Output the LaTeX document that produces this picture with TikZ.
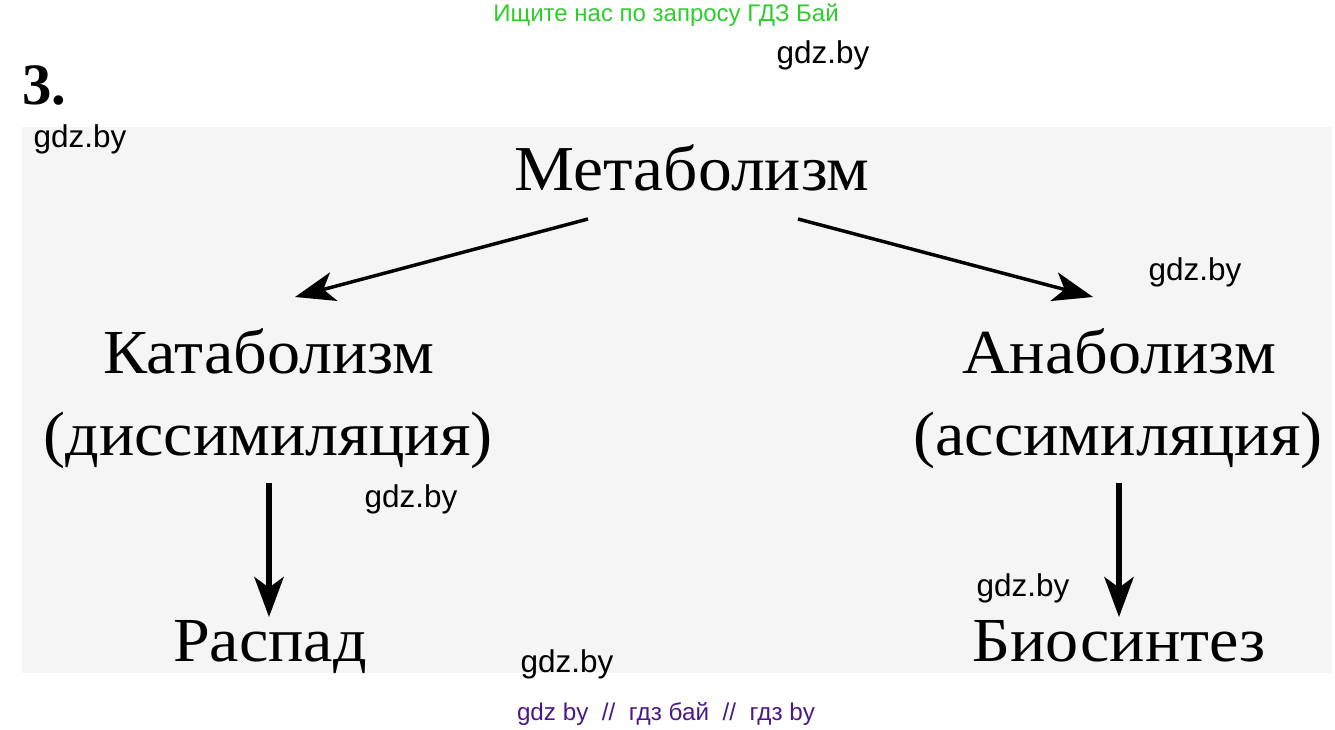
\documentclass[tikz,border=0pt]{standalone}
\usepackage{fontspec}
\setmainfont{Liberation Serif}
\newfontfamily\termfont[FakeStretch=1.055]{Liberation Serif}
\newfontfamily\wmfont{Liberation Sans}
\usetikzlibrary{arrows.meta}

\definecolor{boxgray}{RGB}{245,245,245}
\definecolor{wmgreen}{RGB}{45,205,45}
\definecolor{wmpurple}{RGB}{75,25,135}

\tikzset{
  term/.style={anchor=base, inner sep=0pt, font=\termfont\fontsize{47}{54}\selectfont},
  wm/.style={anchor=base, inner sep=0pt, font=\wmfont\fontsize{23.6}{27}\selectfont},
  arr/.style={line width=2.6pt, -{Stealth[length=30pt, width=22pt, inset=8pt]}},
  darr/.style={line width=3.8pt, -{Stealth[length=30pt, width=22pt, inset=8pt]}}
}

\begin{document}
\begin{tikzpicture}[x=0.75pt, y=-0.75pt]
  \useasboundingbox (0,0) rectangle (1335,729);
  \fill[boxgray] (22,127) rectangle (1332,673);

  % heading and number
  \node[wm, text=wmgreen, font=\wmfont\fontsize{18}{21}\selectfont] (head) at (666,21) {Ищите нас по запросу ГДЗ Бай};
  \node[anchor=base, inner sep=0pt, font=\bfseries\fontsize{44}{50}\selectfont] (num) at (44,104) {3.};

  % terms
  \node[term, font=\termfont\fontsize{48}{55}\selectfont] (metab) at (692,190) {Метаболизм};
  \node[term] (katab) at (269,373) {Катаболизм};
  \node[term] (dissim) at (268,455) {(диссимиляция)};
  \node[term] (anab) at (1119,373) {Анаболизм};
  \node[term] (assim) at (1118,455) {(ассимиляция)};
  \node[term] (raspad) at (270,661) {Распад};
  \node[term] (biosint) at (1119,661) {Биосинтез};

  % arrow ends
  \coordinate (mL) at (588,219); \coordinate (kT) at (295,297);
  \coordinate (mR) at (798,219); \coordinate (aT) at (1093,297);
  \coordinate (dB) at (269,483); \coordinate (rT) at (269,617);
  \coordinate (sB) at (1119,483); \coordinate (bT) at (1119,617);

  \draw[arr] (mL) -- (kT);
  \draw[arr] (mR) -- (aT);
  \draw[darr] (dB) -- (rT);
  \draw[darr] (sB) -- (bT);

  % watermarks
  \node[wm] (wm1) at (823,63) {gdz.by};
  \node[wm] (wm2) at (80,147) {gdz.by};
  \node[wm] (wm3) at (1195,280) {gdz.by};
  \node[wm] (wm4) at (411,507) {gdz.by};
  \node[wm] (wm5) at (1023,596) {gdz.by};
  \node[wm] (wm6) at (567,672) {gdz.by};
  \node[wm, text=wmpurple, font=\wmfont\fontsize{18.2}{21}\selectfont] (foot) at (666,720) {gdz by\ \ //\ \ гдз бай\ \ //\ \ гдз by};
\end{tikzpicture}
\end{document}
